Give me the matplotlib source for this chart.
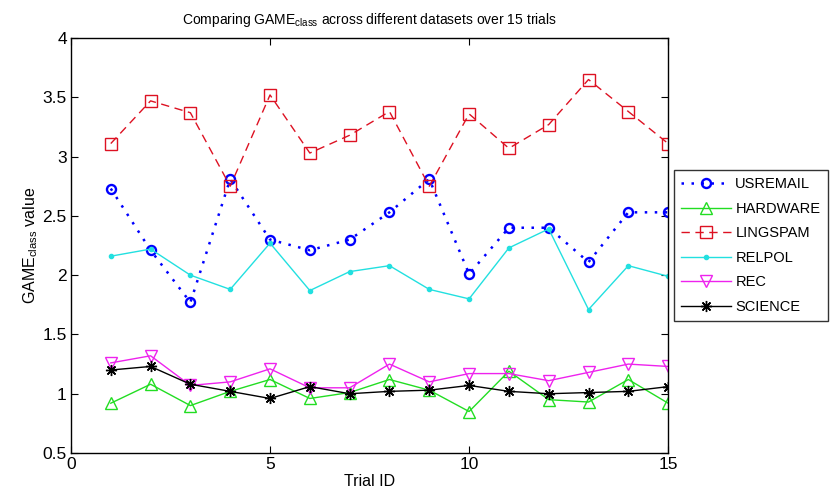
import matplotlib
matplotlib.use("Agg")
import matplotlib.pyplot as plt

trials = list(range(1, 16))
usremail = [2.73, 2.21, 1.77, 2.81, 2.30, 2.21, 2.30, 2.53, 2.81, 2.01, 2.40, 2.40, 2.11, 2.53, 2.53]
hardware = [0.92, 1.08, 0.90, 1.02, 1.12, 0.96, 1.01, 1.12, 1.03, 0.85, 1.19, 0.95, 0.93, 1.12, 0.92]
lingspam = [3.11, 3.47, 3.37, 2.75, 3.52, 3.03, 3.18, 3.38, 2.75, 3.36, 3.07, 3.27, 3.65, 3.38, 3.11]
relpol = [2.16, 2.22, 2.00, 1.88, 2.27, 1.87, 2.03, 2.08, 1.88, 1.80, 2.23, 2.39, 1.71, 2.08, 1.99]
rec = [1.26, 1.32, 1.07, 1.10, 1.21, 1.05, 1.05, 1.25, 1.10, 1.17, 1.17, 1.11, 1.18, 1.25, 1.23]
science = [1.20, 1.23, 1.08, 1.02, 0.96, 1.06, 1.00, 1.02, 1.03, 1.07, 1.02, 1.00, 1.01, 1.02, 1.06]

xticks = [0, 5, 10, 15]
yticks = [0.5, 1, 1.5, 2, 2.5, 3, 3.5, 4]
ytick_labels = ["0.5", "1", "1.5", "2", "2.5", "3", "3.5", "4"]

fam = ["Liberation Sans", "DejaVu Sans"]
plt.rcParams['font.family'] = fam
plt.rcParams['mathtext.fontset'] = 'custom'
plt.rcParams['mathtext.rm'] = fam[0]
plt.rcParams['mathtext.it'] = fam[0]
plt.rcParams['mathtext.default'] = 'rm'

fig = plt.figure(figsize=(8.3, 4.97), dpi=100)
ax = fig.add_axes([0.0855, 0.0885, 0.7195, 0.835])

ax.plot(trials, usremail, color='#0000ff', linestyle=(0, (1, 3)), linewidth=1.8, marker='o',
        markersize=6.5, markerfacecolor='none', markeredgewidth=1.7, label='USREMAIL')
ax.plot(trials, hardware, color='#22dd22', linestyle='-', linewidth=1, marker='^',
        markersize=9, markerfacecolor='none', markeredgewidth=1, label='HARDWARE')
ax.plot(trials, lingspam, color='#dd1122', linestyle=(0, (6, 4)), linewidth=1, marker='s',
        markersize=9, markerfacecolor='none', markeredgewidth=1, label='LINGSPAM')
ax.plot(trials, relpol, color='#22e0e0', linestyle='-', linewidth=1, marker='.',
        markersize=6, label='RELPOL')
ax.plot(trials, rec, color='#ee22ee', linestyle='-', linewidth=1, marker='v',
        markersize=9, markerfacecolor='none', markeredgewidth=1, label='REC')
ax.plot(trials, science, color='black', linestyle='-', linewidth=1, marker=(8, 2, 0),
        markersize=8, markeredgewidth=1, label='SCIENCE')

ax.set_xlim(0, 15)
ax.set_ylim(0.5, 4)
ax.set_xticks(xticks)
ax.set_yticks(yticks)
ax.set_yticklabels(ytick_labels)
ax.tick_params(direction='in', top=True, right=True, labelsize=12.5, length=5, pad=3)
for s in ax.spines.values():
    s.set_linewidth(1)

ax.set_title(r'Comparing GAME$_{\mathrm{class}}$ across different datasets over 15 trials', fontsize=10, pad=10)
ax.set_xlabel('Trial ID', fontsize=11.5, labelpad=1)
ax.set_ylabel(r'GAME$_{\mathrm{class}}$ value', fontsize=11.5, labelpad=2)

leg = ax.legend(loc='center left', bbox_to_anchor=(1.01, 0.5), fontsize=10.5, frameon=True,
                fancybox=False, edgecolor='black', handlelength=3.4, handletextpad=0.3,
                borderpad=0.5, labelspacing=0.72, borderaxespad=0)
leg.get_frame().set_linewidth(1)

fig.savefig('out.png', dpi=100)
